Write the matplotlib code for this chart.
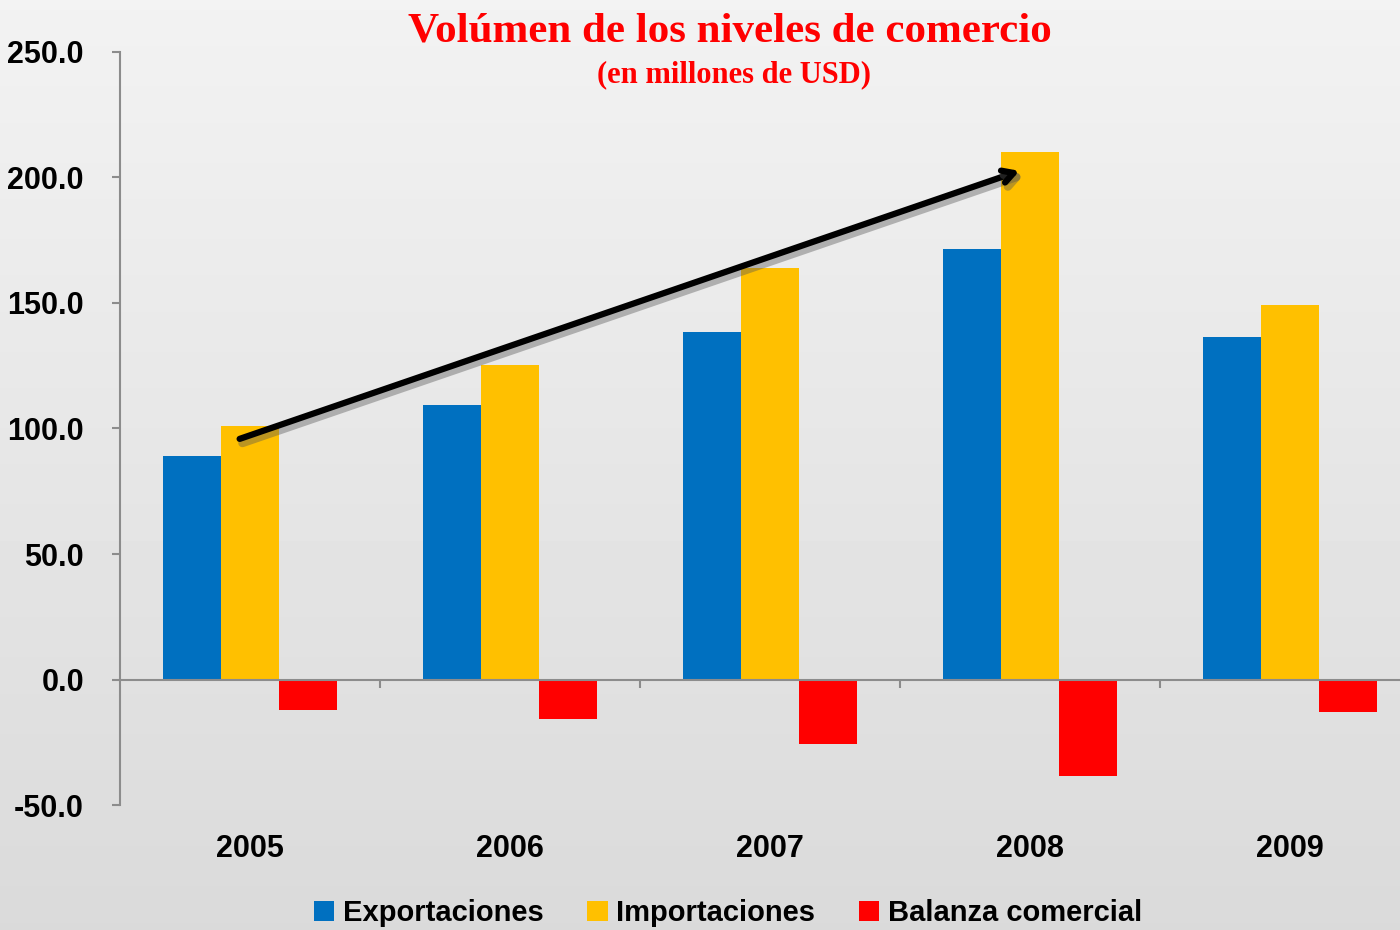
import numpy as np
import matplotlib
matplotlib.use("Agg")
import matplotlib.pyplot as plt
import matplotlib.patheffects as pe

years = ["2005", "2006", "2007", "2008", "2009"]
exportaciones = [89.2, 109.5, 138.5, 171.6, 136.5]
importaciones = [101.1, 125.4, 164.0, 210.2, 149.3]
balanza = [-12.3, -15.9, -25.5, -38.6, -13.1]
series_names = ["Exportaciones", "Importaciones", "Balanza comercial"]
colors = ["#0070C0", "#FFC000", "#FF0000"]

sans = ["Liberation Sans", "DejaVu Sans"]

fig = plt.figure(figsize=(14, 9.3), dpi=100)

# fondo gris degradado
bg = fig.add_axes([0, 0, 1, 1], zorder=-10)
grad = np.linspace(0.95, 0.855, 256).reshape(-1, 1)
bg.imshow(grad, aspect="auto", cmap="gray", vmin=0, vmax=1, extent=[0, 1, 0, 1])
bg.axis("off")

ax = fig.add_axes([120 / 1400, 1 - 805 / 930, 1300 / 1400, 753 / 930])
ax.patch.set_alpha(0)

x = np.arange(len(years))
w = 58 / 260
for i, (vals, c, name) in enumerate(zip([exportaciones, importaciones, balanza], colors, series_names)):
    ax.bar(x + (i - 1) * w, vals, w, color=c, label=name, zorder=2)

ax.set_xlim(-0.5, len(years) - 0.5)
ax.set_ylim(-50, 250)
ax.set_yticks(np.arange(-50, 251, 50))
ax.set_yticklabels([f"{v:.1f}" for v in np.arange(-50, 251, 50)],
                   fontsize=22, fontweight="bold", family=sans)

for s in ["top", "right"]:
    ax.spines[s].set_visible(False)
ax.spines["left"].set_color("#8c8c8c")
ax.spines["left"].set_linewidth(1.5)
ax.spines["bottom"].set_position(("data", 0))
ax.spines["bottom"].set_color("#8c8c8c")
ax.spines["bottom"].set_linewidth(1.5)
ax.spines["bottom"].set_zorder(3)

ax.tick_params(axis="y", direction="out", length=6, width=1.5, color="#8c8c8c", pad=20)
ax.set_xticks(x[1:] - 0.5)
ax.set_xticklabels([])
ax.tick_params(axis="x", which="major", direction="out", length=6, width=1.5, color="#8c8c8c")
ax.set_xticks(x, minor=True)
ax.set_xticklabels(years, minor=True, fontsize=22, fontweight="bold", family=sans)
ax.tick_params(axis="x", which="minor", length=0, pad=111)

# flecha de tendencia
ax.annotate("", xy=(2.97, 203), xytext=(-0.05, 95.5),
            arrowprops=dict(arrowstyle="->,head_length=0.8,head_width=0.45", color="black", lw=4.5,
                            path_effects=[pe.SimpleLineShadow(offset=(2, -3), shadow_color="#555555",
                                                              alpha=0.4, linewidth=6),
                                          pe.Normal()]),
            zorder=5)

fig.text(0.521, 1 - 31 / 930, "Volúmen de los niveles de comercio", ha="center", va="center",
         fontsize=31, fontweight="bold", color="#FF0000", family="Liberation Serif")
fig.text(0.524, 1 - 75 / 930, "(en millones de USD)", ha="center", va="center",
         fontsize=22, fontweight="bold", color="#FF0000", family="Liberation Serif")

leg = fig.legend(loc="center", bbox_to_anchor=(0.52, 17 / 930), ncol=3, frameon=False,
                 handlelength=0.7, handleheight=0.7, handletextpad=0.3, columnspacing=1.5,
                 prop={"family": sans, "size": 21, "weight": "bold"})

fig.savefig("out.png", dpi=100)
